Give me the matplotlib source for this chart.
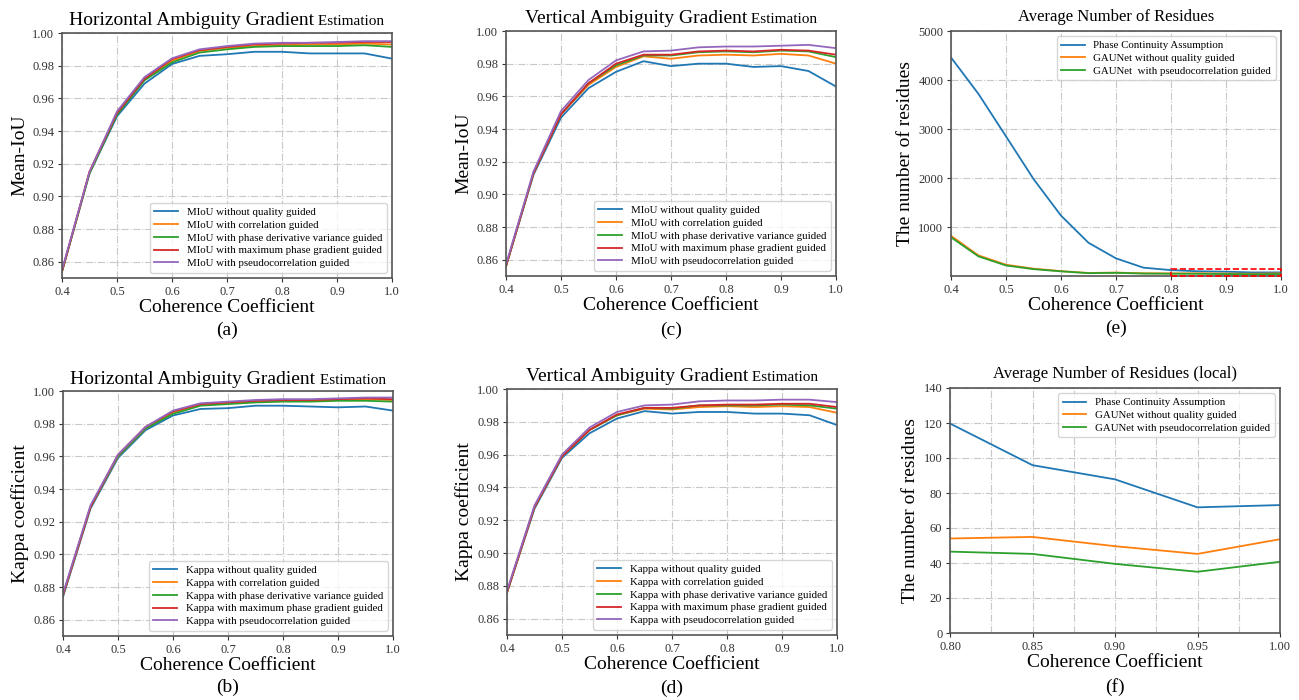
import matplotlib
matplotlib.use("Agg")
import matplotlib.pyplot as plt
from matplotlib.patches import Rectangle

plt.rcParams['font.family'] = 'serif'
plt.rcParams['font.serif'] = ['Liberation Serif', 'DejaVu Serif']

# ---- data ----
coh = [0.40, 0.45, 0.50, 0.55, 0.60, 0.65, 0.70, 0.75, 0.80, 0.85, 0.90, 0.95, 1.00]
coh_local = [0.80, 0.85, 0.90, 0.95, 1.00]

guide_names = ["without quality guided", "with correlation guided",
               "with phase derivative variance guided",
               "with maximum phase gradient guided",
               "with pseudocorrelation guided"]

# (a) horizontal MIoU
miou_h_none = [0.854, 0.914, 0.949, 0.969, 0.981, 0.986, 0.987, 0.9885, 0.9885, 0.9875, 0.9875, 0.9875, 0.9843]
miou_h_corr = [0.854, 0.915, 0.951, 0.972, 0.983, 0.989, 0.991, 0.992, 0.9925, 0.993, 0.993, 0.9935, 0.993]
miou_h_pdv = [0.854, 0.914, 0.950, 0.971, 0.982, 0.988, 0.990, 0.9915, 0.992, 0.992, 0.992, 0.9925, 0.9915]
miou_h_mpg = [0.854, 0.915, 0.951, 0.972, 0.984, 0.9895, 0.9915, 0.993, 0.9935, 0.994, 0.994, 0.9945, 0.9945]
miou_h_pse = [0.855, 0.915, 0.952, 0.973, 0.9845, 0.990, 0.992, 0.9935, 0.994, 0.994, 0.9945, 0.995, 0.995]

# (c) vertical MIoU
miou_v_none = [0.856, 0.912, 0.947, 0.965, 0.975, 0.9815, 0.9785, 0.980, 0.980, 0.978, 0.9785, 0.9755, 0.966]
miou_v_corr = [0.856, 0.913, 0.949, 0.967, 0.978, 0.9845, 0.983, 0.985, 0.9855, 0.985, 0.986, 0.985, 0.980]
miou_v_pdv = [0.856, 0.913, 0.949, 0.968, 0.979, 0.985, 0.985, 0.987, 0.9875, 0.987, 0.988, 0.9875, 0.984]
miou_v_mpg = [0.856, 0.913, 0.949, 0.968, 0.980, 0.9855, 0.9855, 0.9875, 0.988, 0.9875, 0.9885, 0.988, 0.9855]
miou_v_pse = [0.857, 0.914, 0.951, 0.970, 0.982, 0.9875, 0.988, 0.990, 0.9905, 0.9905, 0.991, 0.9915, 0.9895]

# (b) horizontal Kappa
kap_h_none = [0.874, 0.928, 0.959, 0.976, 0.985, 0.989, 0.9895, 0.991, 0.991, 0.9905, 0.990, 0.9905, 0.988]
kap_h_corr = [0.875, 0.929, 0.960, 0.977, 0.987, 0.9915, 0.9925, 0.9935, 0.994, 0.994, 0.9945, 0.995, 0.9945]
kap_h_pdv = [0.875, 0.929, 0.960, 0.977, 0.986, 0.991, 0.992, 0.993, 0.9935, 0.9935, 0.994, 0.994, 0.9935]
kap_h_mpg = [0.875, 0.929, 0.961, 0.978, 0.9875, 0.992, 0.993, 0.994, 0.9945, 0.9945, 0.995, 0.9955, 0.995]
kap_h_pse = [0.876, 0.930, 0.961, 0.978, 0.988, 0.9925, 0.9935, 0.9945, 0.995, 0.995, 0.9955, 0.996, 0.996]

# (d) vertical Kappa
kap_v_none = [0.876, 0.927, 0.958, 0.973, 0.982, 0.9865, 0.985, 0.986, 0.986, 0.985, 0.985, 0.984, 0.978]
kap_v_corr = [0.876, 0.928, 0.959, 0.975, 0.984, 0.988, 0.9875, 0.989, 0.9895, 0.989, 0.9895, 0.989, 0.9855]
kap_v_pdv = [0.876, 0.928, 0.959, 0.975, 0.984, 0.9885, 0.988, 0.990, 0.990, 0.990, 0.9905, 0.990, 0.988]
kap_v_mpg = [0.876, 0.928, 0.959, 0.975, 0.9845, 0.9885, 0.9885, 0.990, 0.9905, 0.9905, 0.991, 0.991, 0.989]
kap_v_pse = [0.877, 0.929, 0.960, 0.9765, 0.986, 0.990, 0.9905, 0.9925, 0.993, 0.993, 0.9935, 0.9935, 0.992]

# (e) residues, full range
res_pca = [4460, 3715, 2850, 1980, 1232, 678, 360, 170, 119.7, 95.9, 87.8, 71.8, 73.1]
res_gau = [820, 420, 230, 150, 100, 62, 70, 55, 54.0, 54.9, 49.6, 45.2, 53.6]
res_gau_pse = [790, 400, 215, 140, 95, 58, 65, 50, 46.5, 45.2, 39.5, 35.0, 40.7]

# (f) residues, local range
loc_pca = [119.7, 95.9, 87.8, 71.8, 73.1]
loc_gau = [54.0, 54.9, 49.6, 45.2, 53.6]
loc_gau_pse = [46.5, 45.2, 39.5, 35.0, 40.7]

colors = ['#1f77b4', '#ff7f0e', '#2ca02c', '#d62728', '#9467bd']

W, H = 1299, 700
fig = plt.figure(figsize=(W / 100, H / 100), dpi=100)


def make_axes(left, right, top, bottom):
    return fig.add_axes([left / W, 1 - bottom / H, (right - left) / W, (bottom - top) / H])


def style(ax):
    ax.grid(True, linestyle='-.', color='#c8c8c8', linewidth=0.8)
    ax.set_axisbelow(True)
    for s in ax.spines.values():
        s.set_color('#555555')
        s.set_linewidth(1.2)
    ax.tick_params(labelsize=9, colors='#333333', length=3, width=0.8, pad=2.5)


def two_part_title(ax, big, small, top_px, bs=14, ss=11):
    r = fig.canvas.get_renderer()
    t1 = fig.text(0, 0, big, fontsize=bs)
    t2 = fig.text(0, 0, " " + small, fontsize=ss)
    w1 = t1.get_window_extent(r).width
    w2 = t2.get_window_extent(r).width
    bb = ax.get_window_extent(r)
    cx = (bb.x0 + bb.x1) / 2
    x0 = cx - (w1 + w2) / 2
    y = (H - top_px) / H
    t1.set_position((x0 / W, y))
    t2.set_position(((x0 + w1) / W, y))


def sub_label(ax, lab, y_px):
    bb = ax.get_position()
    fig.text((bb.x0 + bb.x1) / 2, 1 - y_px / H, lab, fontsize=14, ha='center', va='center')


def accuracy_panel(box, series, prefix, ylabel, title_big, title_top, lab, lab_y):
    ax = make_axes(*box)
    for vals, c, name in zip(series, colors, guide_names):
        ax.plot(coh, vals, color=c, linewidth=1.3, label=prefix + " " + name)
    ax.set_xlim(0.4, 1.0)
    ax.set_ylim(0.85, 1.0)
    ax.set_yticks([0.86, 0.88, 0.90, 0.92, 0.94, 0.96, 0.98, 1.00])
    ax.set_yticklabels(["%.2f" % v for v in [0.86, 0.88, 0.90, 0.92, 0.94, 0.96, 0.98, 1.00]])
    ax.set_xticks([0.4, 0.5, 0.6, 0.7, 0.8, 0.9, 1.0])
    style(ax)
    ax.set_xlabel("Coherence Coefficient", fontsize=14, labelpad=1)
    ax.set_ylabel(ylabel, fontsize=14, labelpad=3)
    ax.legend(loc='lower right', fontsize=7.8, labelspacing=0.3, edgecolor='#cccccc',
              fancybox=True, handlelength=2.2)
    two_part_title(ax, title_big, "Estimation", title_top)
    sub_label(ax, lab, lab_y)
    return ax


accuracy_panel((62, 392, 33, 278), [miou_h_none, miou_h_corr, miou_h_pdv, miou_h_mpg, miou_h_pse],
               "MIoU", "Mean-IoU", "Horizontal Ambiguity Gradient", 25, "(a)", 330)
accuracy_panel((63, 393, 391, 636), [kap_h_none, kap_h_corr, kap_h_pdv, kap_h_mpg, kap_h_pse],
               "Kappa", "Kappa coefficient", "Horizontal Ambiguity Gradient", 384, "(b)", 687)
accuracy_panel((506, 836, 31, 276), [miou_v_none, miou_v_corr, miou_v_pdv, miou_v_mpg, miou_v_pse],
               "MIoU", "Mean-IoU", "Vertical Ambiguity Gradient", 23, "(c)", 330)
accuracy_panel((507, 837, 389, 635), [kap_v_none, kap_v_corr, kap_v_pdv, kap_v_mpg, kap_v_pse],
               "Kappa", "Kappa coefficient", "Vertical Ambiguity Gradient", 381, "(d)", 688)

# (e) residues
ax = make_axes(951, 1281, 31, 276)
ax.plot(coh, res_pca, color=colors[0], linewidth=1.3, label="Phase Continuity Assumption")
ax.plot(coh, res_gau, color=colors[1], linewidth=1.3, label="GAUNet without quality guided")
ax.plot(coh, res_gau_pse, color=colors[2], linewidth=1.3, label="GAUNet  with pseudocorrelation guided")
ax.set_xlim(0.4, 1.0)
ax.set_ylim(0, 5000)
ax.set_yticks([1000, 2000, 3000, 4000, 5000])
ax.set_xticks([0.4, 0.5, 0.6, 0.7, 0.8, 0.9, 1.0])
style(ax)
ax.add_patch(Rectangle((0.8, 5), 0.2, 135, fill=False, edgecolor='red', linestyle='--',
                       linewidth=1.2, clip_on=False, zorder=5))
ax.set_xlabel("Coherence Coefficient", fontsize=14, labelpad=1)
ax.set_ylabel("The number of residues", fontsize=14, labelpad=3)
ax.set_title("Average Number of Residues", fontsize=12, pad=7)
ax.legend(loc='upper right', fontsize=7.8, labelspacing=0.3, edgecolor='#cccccc', handlelength=2.2)
sub_label(ax, "(e)", 328)

# (f) residues, local
ax = make_axes(950, 1280, 388, 633)
ax.plot(coh_local, loc_pca, color=colors[0], linewidth=1.3, label="Phase Continuity Assumption")
ax.plot(coh_local, loc_gau, color=colors[1], linewidth=1.3, label="GAUNet without quality guided")
ax.plot(coh_local, loc_gau_pse, color=colors[2], linewidth=1.3, label="GAUNet with pseudocorrelation guided")
ax.set_xlim(0.8, 1.0)
ax.set_ylim(0, 140)
ax.set_yticks([0, 20, 40, 60, 80, 100, 120, 140])
ax.set_xticks(coh_local)
ax.set_xticklabels(["%.2f" % v for v in coh_local])
ax.set_xticks([0.825, 0.875, 0.925, 0.975], minor=True)
ax.tick_params(axis='x', which='minor', length=0)
style(ax)
ax.grid(True, which='minor', axis='x', linestyle='-.', color='#c8c8c8', linewidth=0.8)
ax.set_xlabel("Coherence Coefficient", fontsize=14, labelpad=1)
ax.set_ylabel("The number of residues", fontsize=14, labelpad=3)
ax.set_title("Average Number of Residues (local)", fontsize=12, pad=7)
ax.legend(loc='upper right', fontsize=7.8, labelspacing=0.3, edgecolor='#cccccc', handlelength=2.2)
sub_label(ax, "(f)", 687)

fig.savefig("out.png", dpi=100)
